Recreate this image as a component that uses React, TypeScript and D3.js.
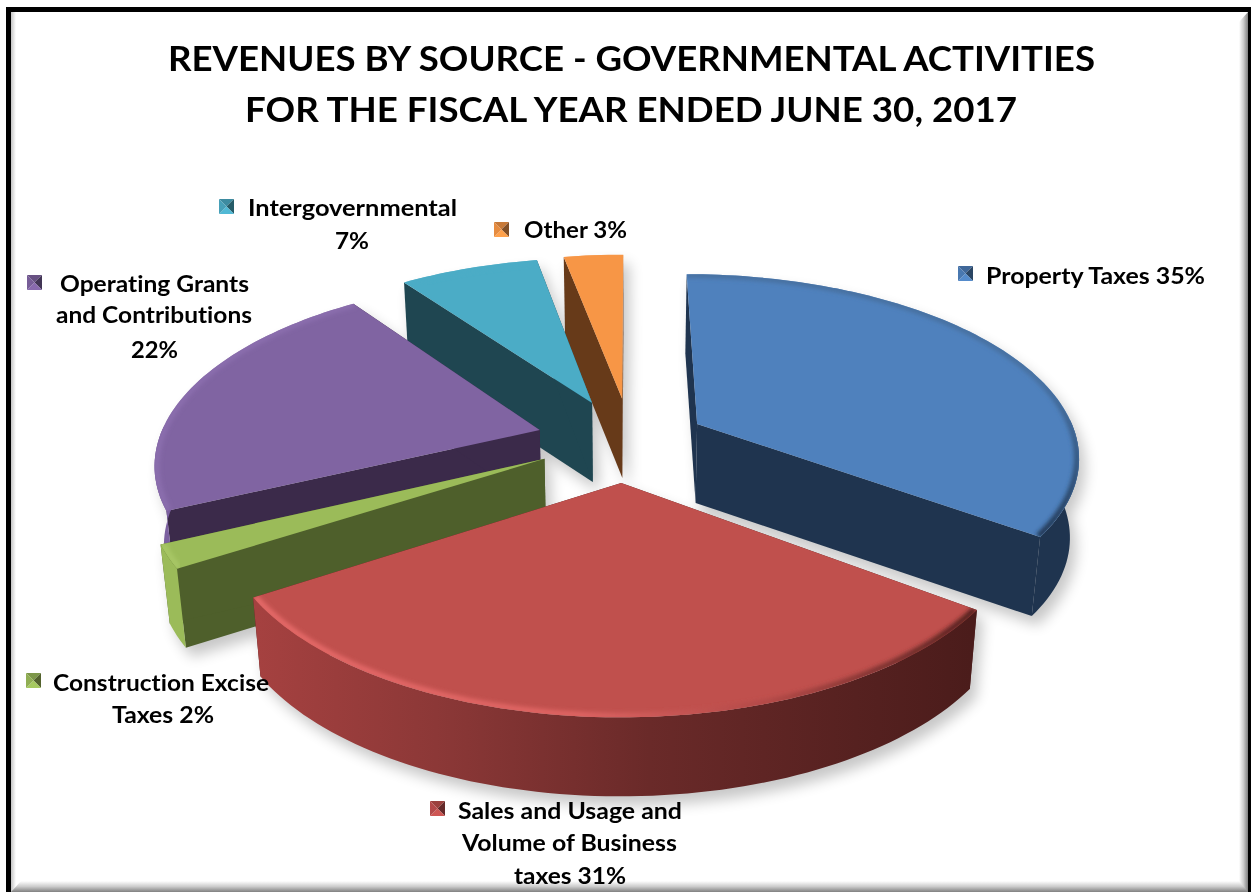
import React from "react";
import * as d3 from "d3";

const W = 1251, H = 892;
const categories = ["Property Taxes", "Sales and Usage and Volume of Business taxes", "Construction Excise Taxes", "Operating Grants and Contributions", "Intergovernmental", "Other"];
const shares = [35, 31, 2, 22, 7, 3];
const topColors = ["#4f81bd", "#c0504d", "#9bbb59", "#8064a2", "#4bacc6", "#f79646"];
const faceColors = ["#1f344f", "#4f1f1d", "#4e5f2b", "#3b2a4a", "#1f4651", "#673a19"];
const wallColors = ["#1f344f", "url(#redWall)", "#9bbb59", "#7b5f9f", "#1f4651", "#673a19"];
const rimColors = ["url(#blueRim)", "url(#redRim)", "#a8c766", "#8b6eae", "#4bacc6", "#f79646"];
const nudges: [number, number][] = [[-2, 0], [0, -1], [-3, -3], [-2, -2], [1, -3], [6, -4]];
const titleLines = ["REVENUES BY SOURCE - GOVERNMENTAL ACTIVITIES", "FOR THE FISCAL YEAR ENDED JUNE 30, 2017"];

const labelSets = [
  { c: 0, key: [958, 266], lines: [["Property Taxes 35%", 986, 284, 219]] },
  { c: 1, key: [430, 801], lines: [["Sales and Usage and", 458, 819, 224], ["Volume of Business", 462, 851, 215], ["taxes 31%", 514, 884, 112]] },
  { c: 2, key: [26, 673], lines: [["Construction  Excise", 53, 691, 216], ["Taxes 2%", 112, 723, 102]] },
  { c: 3, key: [27, 275], lines: [["Operating Grants", 60, 292, 189], ["and Contributions", 56, 323, 196], ["22%", 131, 358, 47]] },
  { c: 4, key: [219, 199], lines: [["Intergovernmental", 248, 216, 209], ["7%", 335, 249, 34]] },
  { c: 5, key: [494, 222], lines: [["Other 3%", 524, 238, 103]] },
] as const;

const cx = 624, cy = 442, Rx = 381, Ry = 180, persp = 0.165, explode = 0.225, depth = 79, converge = 0.98;

type P = [number, number];
const proj = (x: number, y: number, low = false): P => {
  const w = 1 / (1 - persp * y);
  const sx = x * Rx * w;
  return [cx + sx * (low ? converge : 1), cy + y * Ry * w + (low ? depth : 0)];
};

const slices = d3.pie<number>().sort(null).value((d) => d)(shares);
const lineGen = d3.line<P>();

const geo = slices.map((s, i) => {
  const mid = (s.startAngle + s.endAngle) / 2;
  const ox = Math.sin(mid) * explode, oy = -Math.cos(mid) * explode;
  const [nx, ny] = nudges[i];
  const shift = (p: P): P => [p[0] + nx, p[1] + ny];
  const n = Math.max(4, Math.ceil((s.endAngle - s.startAngle) * 40));
  const angles = d3.range(n + 1).map((k) => s.startAngle + ((s.endAngle - s.startAngle) * k) / n);
  const at = (a: number, r: number, low = false) => shift(proj(ox + Math.sin(a) * r, oy - Math.cos(a) * r, low));
  const arcTop = angles.map((a) => at(a, 1));
  const arcLow = angles.map((a) => at(a, 1, true));
  const rim = angles.map((a) => at(a, 0.995));
  const front = angles.filter((a) => -Math.cos(a) > -0.04);
  const wallTop = front.map((a) => at(a, 1));
  const wallLow = front.map((a) => at(a, 1, true)).reverse();
  const apex = shift(proj(ox, oy)), apexLow = shift(proj(ox, oy, true));
  return {
    i,
    order: -Math.cos(mid),
    top: lineGen([apex, ...arcTop])! + "Z",
    low: lineGen([apexLow, ...arcLow])! + "Z",
    hull: lineGen([...arcTop, ...arcLow.slice().reverse()])! + "Z",
    wall: front.length > 1 ? lineGen([...wallTop, ...wallLow])! + "Z" : "",
    startFace: lineGen([apex, arcTop[0], arcLow[0], apexLow])! + "Z",
    endFace: lineGen([apex, arcTop[n], arcLow[n], apexLow])! + "Z",
    rim: lineGen(rim)!,
  };
});
const painted = geo.slice().sort((a, b) => d3.ascending(a.order, b.order));

const FONT = "Lato, 'Open Sans', sans-serif";

function Key({ x, y, color }: { x: number; y: number; color: string }) {
  const s = 15;
  const base = d3.color(color)!;
  const m: P = [x + s / 2, y + s / 2];
  const tri = (a: P, b: P) => lineGen([a, b, m])! + "Z";
  const tl: P = [x, y], tr: P = [x + s, y], br: P = [x + s, y + s], bl: P = [x, y + s];
  return (
    <g filter="url(#keyBlur)">
      <path d={tri(tl, tr)} fill={base.darker(0.6).formatHex()} />
      <path d={tri(tr, br)} fill={base.darker(1.8).formatHex()} />
      <path d={tri(br, bl)} fill={base.brighter(0.2).formatHex()} />
      <path d={tri(bl, tl)} fill={base.darker(0.2).formatHex()} />
    </g>
  );
}

export default function App() {
  return (
    <svg width={W} height={H} viewBox={`0 0 ${W} ${H}`} style={{ position: "absolute", left: 0, top: 0, background: "#fff" }}>
      <defs>
        <filter id="soft" x="-20%" y="-20%" width="140%" height="140%"><feGaussianBlur stdDeviation="7" /></filter>
        <filter id="rimBlur" x="-5%" y="-5%" width="110%" height="110%"><feGaussianBlur stdDeviation="2" /></filter>
        <filter id="txt" x="-5%" y="-20%" width="110%" height="140%"><feGaussianBlur stdDeviation="0.35" /></filter>
        <filter id="keyBlur" x="-20%" y="-20%" width="140%" height="140%"><feGaussianBlur stdDeviation="0.4" /></filter>
        <linearGradient id="redWall" gradientUnits="userSpaceOnUse" x1="258" x2="970" y1="0" y2="0">
          <stop offset="0" stopColor="#a54140" />
          <stop offset="0.25" stopColor="#8c3837" />
          <stop offset="0.55" stopColor="#6a2a29" />
          <stop offset="1" stopColor="#4b1c1b" />
        </linearGradient>
        <linearGradient id="redRim" gradientUnits="userSpaceOnUse" x1="258" x2="970" y1="0" y2="0">
          <stop offset="0" stopColor="#e66a69" />
          <stop offset="0.45" stopColor="#e06564" />
          <stop offset="0.72" stopColor="#b04846" />
          <stop offset="1" stopColor="#4f1f1d" />
        </linearGradient>
        <linearGradient id="blueRim" gradientUnits="userSpaceOnUse" x1="0" x2="0" y1="380" y2="535">
          <stop offset="0" stopColor="#466f9f" />
          <stop offset="0.5" stopColor="#35577f" />
          <stop offset="1" stopColor="#1f344f" />
        </linearGradient>
        <linearGradient id="edgeR" x1="0" x2="1" y1="0" y2="0">
          <stop offset="0" stopColor="#fff" />
          <stop offset="0.5" stopColor="#ccc" />
          <stop offset="1" stopColor="#808080" />
        </linearGradient>
        <linearGradient id="edgeB" x1="0" x2="0" y1="0" y2="1">
          <stop offset="0" stopColor="#fff" />
          <stop offset="0.5" stopColor="#ccc" />
          <stop offset="1" stopColor="#808080" />
        </linearGradient>
        <linearGradient id="edgeL" x1="0" x2="1" y1="0" y2="0">
          <stop offset="0" stopColor="#c4c4c4" />
          <stop offset="1" stopColor="#fff" />
        </linearGradient>
        {geo.map((g) => <clipPath key={g.i} id={`clip${g.i}`}><path d={g.top} /></clipPath>)}
      </defs>

      {/* frame */}
      <rect x={11} y={12} width={5} height={880} fill="url(#edgeL)" />
      <path d="M1239,22 L1248,12 L1248,892 L1239,892 Z" fill="url(#edgeR)" />
      <path d="M11,892 L21,881 L1239,881 L1248,892 Z" fill="url(#edgeB)" />
      <rect x={6} y={7} width={1245} height={5} fill="#000" />
      <rect x={6} y={7} width={5} height={885} fill="#000" />
      <rect x={1248} y={7} width={3} height={885} fill="#000" />

      {/* title */}
      <g fontFamily={FONT} fontWeight={700} fontSize={35} fill="#000" style={{ fontVariantLigatures: "none" }} filter="url(#txt)">
        <text x={168} y={71} textLength={927} lengthAdjust="spacingAndGlyphs">{titleLines[0]}</text>
        <text x={245} y={122} textLength={772} lengthAdjust="spacingAndGlyphs">{titleLines[1]}</text>
      </g>

      {/* shadows */}
      <g filter="url(#soft)" opacity={0.22} transform="translate(6,9)">
        {painted.map((g) => (
          <g key={g.i} fill="#000">
            <path d={g.low} /><path d={g.hull} /><path d={g.startFace} /><path d={g.endFace} />
          </g>
        ))}
      </g>

      {/* slices, back to front */}
      {painted.map((g) => (
        <g key={g.i}>
          <path d={g.startFace} fill={faceColors[g.i]} />
          <path d={g.endFace} fill={faceColors[g.i]} />
          {g.wall && <path d={g.wall} fill={wallColors[g.i]} />}
          <path d={g.top} fill={topColors[g.i]} />
          <g clipPath={`url(#clip${g.i})`}>
            <path d={g.rim} fill="none" stroke={rimColors[g.i]} strokeWidth={6} filter="url(#rimBlur)" />
          </g>
        </g>
      ))}

      {/* labels */}
      {labelSets.map((l) => (
        <g key={l.c}>
          <Key x={l.key[0]} y={l.key[1]} color={topColors[l.c]} />
          <g fontFamily={FONT} fontWeight={700} fontSize={22} fill="#000" style={{ fontVariantLigatures: "none" }} filter="url(#txt)">
            {l.lines.map((t) => (
              <text key={t[0]} x={t[1]} y={t[2]} textLength={t[3]} lengthAdjust="spacingAndGlyphs">{t[0]}</text>
            ))}
          </g>
        </g>
      ))}
    </svg>
  );
}
